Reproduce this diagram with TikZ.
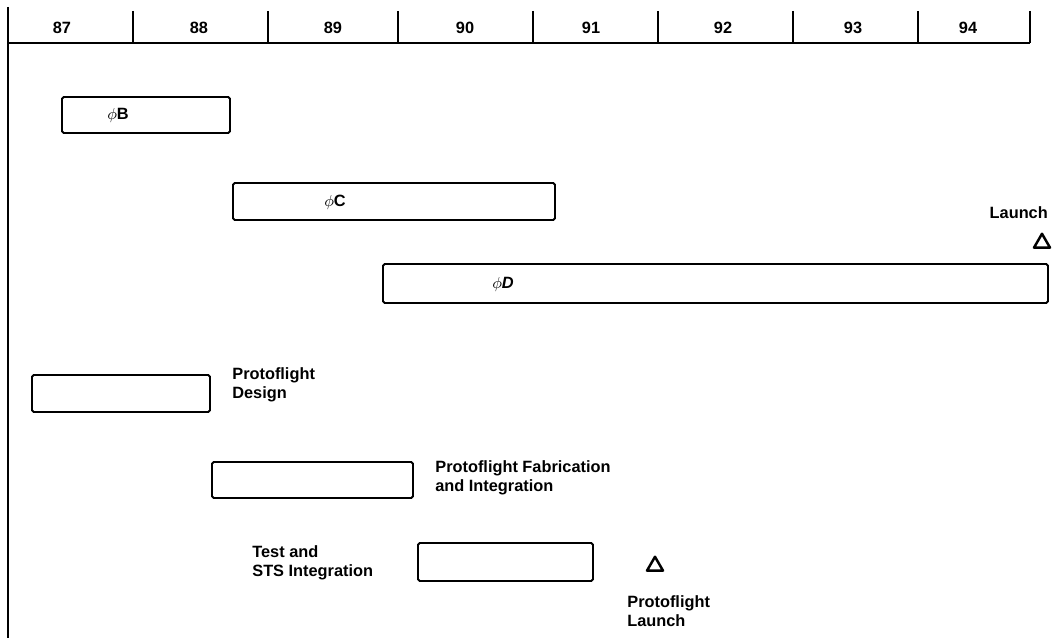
\documentclass[tikz,border=0pt]{standalone}
\usepackage{fontspec}
\setmainfont{Liberation Sans}
\usetikzlibrary{shapes.geometric}
\begin{document}
\begin{tikzpicture}[x=0.02cm,y=-0.02cm,font=\fontsize{9.3}{11}\selectfont\bfseries,line join=round,
		bar/.style={line width=1.1pt,rounded corners=1pt},
		lbl/.style={align=left,anchor=west,inner sep=0pt},
		tri/.style={draw,regular polygon,regular polygon sides=3,line width=1.4pt,minimum size=10.5pt,inner sep=0pt}]
				\useasboundingbox (0,0) rectangle (1056,638);
				% time axis
				\draw[line width=1pt] (8,7)--(8,638);
				\draw[line width=1pt] (8,43)--(1030,43);
				\foreach \x in {133,268,398,533,658,793,918,1030}
					\draw[line width=1pt] (\x,11)--(\x,43);
				\foreach \x/\yr in {62/87,199/88,333/89,465/90,591/91,723/92,853/93,968/94}
					\node (y\yr) at (\x,28) {\yr};
				% phases
				\draw[bar] (62,97) rectangle (230,133);
				\node (phB) at (118,115) {$\phi$B};
				\draw[bar] (233,183) rectangle (555,220);
				\node (phC) at (335,202) {$\phi$C};
				\draw[bar] (383,264) rectangle (1048,303);
				\node (phD) at (503,284) {$\phi$\textit{D}};
				\node[anchor=east] (lnch) at (1054,213) {Launch};
				\node[tri] (lnchtri) at (1042,243) {};
				% protoflight
				\draw[bar] (32,375) rectangle (210,412);
				\node[lbl] (pdes) at (232,385) {Protoflight\\Design};
				\draw[bar] (212,462) rectangle (413,498);
				\node[lbl] (pfab) at (435,478) {Protoflight Fabrication\\and Integration};
				\draw[bar] (418,543) rectangle (593,581);
				\node[lbl] (ptest) at (252,563) {Test and\\STS Integration};
				\node[tri] (ptri) at (655,566) {};
				\node[lbl] (plnch) at (627,611) {Protoflight\\Launch};
		\end{tikzpicture}
\end{document}
